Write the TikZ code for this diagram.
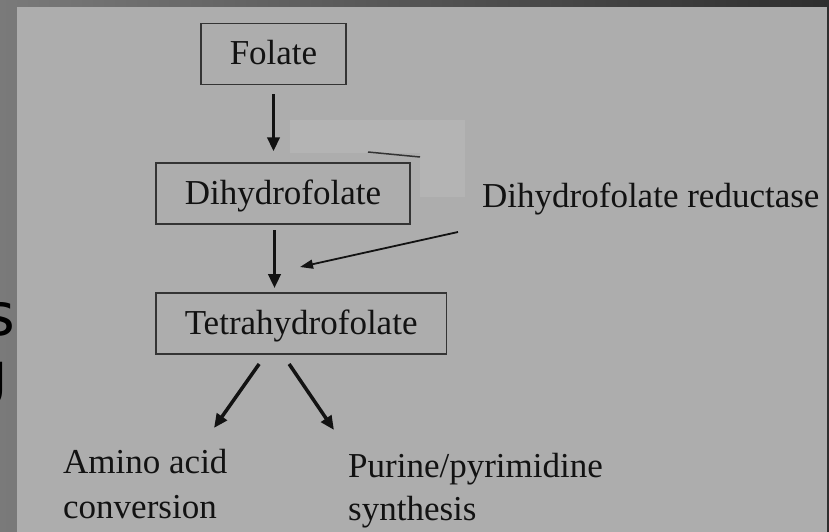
\documentclass[tikz,border=0pt]{standalone}
\usepackage{fontspec}
\setmainfont{Liberation Serif}
\newfontfamily\slidefont{DejaVu Sans}
\usepackage{xcolor}
\usetikzlibrary{arrows.meta,positioning}
\definecolor{panelgray}{RGB}{173,173,173}
\definecolor{patchgray}{RGB}{180,180,180}
\definecolor{framelight}{RGB}{122,122,122}
\definecolor{framedark}{RGB}{46,46,46}
\definecolor{inkgray}{RGB}{18,18,18}
\definecolor{edgegray}{RGB}{52,52,52}
\tikzset{
    metabox/.style={
        rectangle,
        draw=edgegray,
        line width=1.8pt,
        inner xsep=29pt,
        inner ysep=0pt,
        minimum height=61pt,
        text height=24pt,
        text depth=2pt,
        text=inkgray,
        font=\fontsize{35}{42}\selectfont
    },
    pathlabel/.style={inner sep=0pt, align=left, text=inkgray, font=\fontsize{35}{45}\selectfont},
    slideglyph/.style={inner sep=0pt, text=black, font=\slidefont\fontsize{59}{59}\selectfont},
    line/.style={-{Triangle[length=14pt,width=12pt]}, line width=3.5pt, draw=inkgray},
    thinline/.style={-{Triangle[length=13pt,width=9pt]}, line width=1.8pt, draw=inkgray},
}

\begin{document}
\begin{tikzpicture}[x=1pt, y=-1pt]
    \useasboundingbox (0,0) rectangle (829,532);
    \clip (0,0) rectangle (829,532);

    % Slide frame and cut-off slide text
    \shade[left color=framelight, right color=framedark] (0,0) rectangle (829,532);
    \node[slideglyph, anchor=base east] (fragone) at (15,335) {s};
    \node[slideglyph, anchor=base east] (fragtwo) at (8,394) {g};

    % Pasted figure panel
    \fill[panelgray] (17,7) rectangle (827,532);
    \fill[patchgray] (290,120) -- (465,120) -- (465,197) -- (420,197) -- (420,153) -- (290,153) -- cycle;
    \draw[line width=1.5pt, draw=black!80] (368,152) -- (420,157);

    % Pathway boxes
    \node[metabox] (folate) at (273.5,54) {Folate};
    \node[metabox, below=77pt of folate.south west, anchor=north west, xshift=-45pt] (dihydro) {Dihydrofolate};
    \node[metabox, below=67pt of dihydro.south west, anchor=north west] (tetra) {Tetrahydrofolate};

    % Enzyme and products
    \node[pathlabel, anchor=base west] (enzyme) at (482,207) {Dihydrofolate reductase};
    \node[pathlabel, anchor=north west] (amino) at (63,449) {Amino acid\\conversion};
    \node[pathlabel, anchor=north west, font=\fontsize{35}{43}\selectfont] (purine) at (348,453) {Purine/pyrimidine\\synthesis};
    \coordinate (enzhead) at (300,267);

    % Reaction arrows
    \draw[line, shorten <=9pt, shorten >=11pt] (folate.south) -- (folate.south |- dihydro.north);
    \draw[line, shorten <=5pt, shorten >=4pt] ([xshift=1pt]folate.south |- dihydro.south) -- ([xshift=1pt]folate.south |- tetra.north);
    \draw[thinline] ([xshift=-24pt,yshift=-25pt]enzyme.base west) -- (enzhead);

    % Branches to products
    \draw[line] ([xshift=-42pt,yshift=-9pt]tetra.south) -- ([xshift=151pt,yshift=21pt]amino.north west);
    \draw[line] ([xshift=-12pt,yshift=-9pt]tetra.south) -- ([xshift=-14pt,yshift=23pt]purine.north west);
\end{tikzpicture}
\end{document}
